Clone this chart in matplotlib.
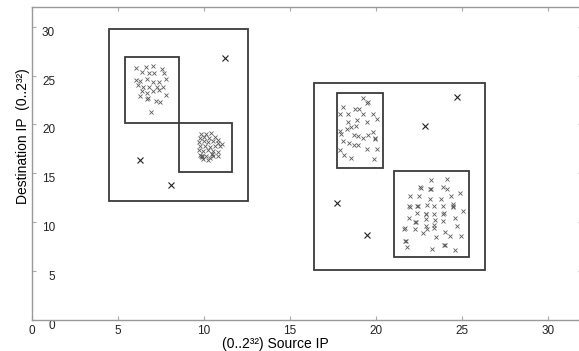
"""Source IP vs Destination IP scatter with cluster boxes"""

import matplotlib
matplotlib.use("Agg")
import matplotlib.pyplot as plt
from matplotlib.patches import Rectangle

# ── data (units of 2^32 / 32) ────────────────────────────────────
# left group, upper cluster
c1_x = [6.06, 6.63, 7.03, 7.59, 6.39, 6.82, 7.13, 7.69, 7.81, 6.06, 6.30, 6.69,
        7.07, 7.42, 6.20, 6.49, 6.82, 7.27, 7.65, 6.39, 6.69, 7.03, 7.42, 7.81,
        6.30, 6.72, 7.23, 7.46, 6.92, 6.74]
c1_y = [25.81, 25.91, 26.02, 25.71, 25.36, 25.26, 25.30, 25.23, 24.68, 24.54, 24.44, 24.61,
        24.37, 24.37, 23.99, 23.86, 23.86, 23.86, 23.86, 23.41, 23.24, 23.41, 23.51, 22.97,
        22.90, 22.63, 22.38, 22.28, 21.29, 22.70]

# left group, lower (dense) cluster
c2_x = [9.84, 10.13, 10.42, 9.78, 10.02, 10.33, 10.66, 10.85, 9.74, 10.02, 10.27, 10.56,
        10.85, 11.05, 9.78, 10.08, 10.37, 10.66, 10.95, 9.74, 9.98, 10.27, 10.56, 10.85,
        9.78, 9.88, 10.13, 10.47, 10.56, 10.85, 9.98, 10.27, 10.37, 9.84, 9.90, 10.50]
c2_y = [19.07, 19.00, 19.14, 18.62, 18.73, 18.59, 18.73, 18.45, 18.17, 18.28, 18.17, 18.28,
        18.11, 18.04, 17.76, 17.83, 17.70, 17.76, 17.76, 17.35, 17.25, 17.35, 17.25, 17.15,
        16.88, 16.74, 16.81, 17.01, 16.74, 16.81, 16.47, 16.40, 16.53, 16.80, 16.70, 16.95]

# right group, upper cluster
c3_x = [19.28, 19.51, 18.12, 18.80, 19.03, 17.92, 18.41, 18.89, 19.28, 19.83, 20.06, 18.41,
        18.55, 18.85, 19.51, 17.92, 17.98, 18.74, 18.99, 19.24, 19.57, 19.83, 19.96, 18.08,
        18.47, 18.74, 18.99, 19.51, 20.06, 17.92, 18.16, 18.55, 19.90, 18.31, 19.98, 19.55]
c3_y = [22.73, 22.15, 21.77, 21.63, 21.60, 21.02, 21.09, 20.50, 21.12, 21.12, 20.57, 20.27,
        19.71, 19.82, 20.27, 19.37, 19.07, 18.96, 18.86, 18.62, 18.96, 19.20, 18.52, 18.35,
        18.11, 17.94, 17.94, 17.49, 17.49, 17.35, 16.91, 16.57, 16.50, 19.58, 18.60, 22.25]

# right group, lower cluster
c4_x = [23.22, 24.13, 22.58, 23.16, 23.90, 24.13, 24.90, 21.99, 22.54, 23.16, 23.78, 24.36,
        21.95, 22.42, 22.97, 23.39, 23.93, 24.48, 25.06, 22.42, 22.92, 23.39, 23.93, 24.61,
        21.95, 22.28, 22.92, 23.45, 23.93, 24.71, 21.65, 22.28, 22.73, 22.97, 23.39, 23.51,
        24.03, 24.32, 24.94, 21.70, 21.80, 23.26, 23.97, 24.61, 22.92, 23.39,
        22.62, 23.20, 21.97, 22.46, 23.97, 24.50, 22.95, 22.32, 21.68, 21.75, 24.02, 24.50]
c4_y = [14.27, 14.45, 13.55, 13.38, 13.59, 13.38, 12.98, 12.70, 12.63, 12.36, 12.36, 12.63,
        11.60, 11.60, 11.78, 11.67, 11.67, 11.67, 11.16, 10.92, 10.85, 10.85, 10.82, 10.41,
        10.41, 10.00, 10.31, 10.24, 10.06, 9.62, 9.28, 9.28, 8.87, 9.28, 9.38, 8.52,
        9.03, 8.59, 8.59, 8.01, 7.49, 7.22, 7.67, 7.16, 9.55, 9.72,
        13.50, 13.42, 11.50, 11.65, 10.90, 11.50, 10.80, 10.05, 9.35, 8.10, 7.70, 11.85]

# isolated points
out_x = [11.24, 6.30, 8.08, 24.71, 22.87, 17.73, 19.48]
out_y = [26.77, 16.40, 13.76, 22.80, 19.80, 11.95, 8.70]

# boxes: (x0, y0, x1, y1)
boxes = [
    (4.48, 12.2, 12.60, 29.75),
    (5.42, 20.16, 8.58, 26.94),
    (8.58, 15.10, 11.66, 20.10),
    (16.39, 5.10, 26.35, 24.23),
    (17.77, 15.50, 20.40, 23.24),
    (21.08, 6.47, 25.44, 15.20),
]

ticks = [0, 5, 10, 15, 20, 25, 30]

# ── plot ─────────────────────────────────────────────────────────
plt.rcParams.update({
    "font.family": ["Liberation Sans", "DejaVu Sans"],
    "font.size": 8.5,
})

fig = plt.figure(figsize=(5.79, 3.51), dpi=100)
ax = fig.add_axes([0.0548, 0.0892, 0.9505, 0.890])

for x0, y0, x1, y1 in boxes:
    ax.add_patch(Rectangle((x0, y0), x1 - x0, y1 - y0, fill=False,
                           edgecolor="#3a3a3a", linewidth=1.3, zorder=3))

for xs, ys in [(c1_x, c1_y), (c2_x, c2_y), (c3_x, c3_y), (c4_x, c4_y)]:
    ax.plot(xs, ys, linestyle="none", marker="x", markersize=3.4,
            markeredgewidth=0.6, color="#5a5a5a", zorder=4)

ax.plot(out_x, out_y, linestyle="none", marker="x", markersize=5,
        markeredgewidth=0.8, color="#222222", zorder=4)

ax.set_xlim(0, 32)
ax.set_ylim(0, 32)
ax.set_xticks(ticks)
ax.set_yticks(ticks)
ax.set_xticklabels([str(t) for t in ticks])
ax.set_yticklabels([str(t) for t in ticks])

for s in ax.spines.values():
    s.set_color("#999999")
    s.set_linewidth(1.0)

ax.tick_params(direction="in", length=3, width=0.8, color="#aaaaaa",
               top=True, right=True, labelcolor="#222222")
ax.tick_params(axis="x", pad=4.0)
ax.tick_params(axis="y", pad=-16.8)
for lbl in ax.get_yticklabels():
    lbl.set_verticalalignment("top")

# x label sits just under the "15" tick label, as in the original
ax.set_xlabel("(0..2³²) Source IP", fontsize=10)
ax.xaxis.set_label_coords(0.443, -0.054)
ax.set_ylabel("Destination IP  (0..2³²)", fontsize=10)
ax.yaxis.set_label_coords(-0.004, 0.588)

plt.savefig("out.png", dpi=100)
plt.close()
